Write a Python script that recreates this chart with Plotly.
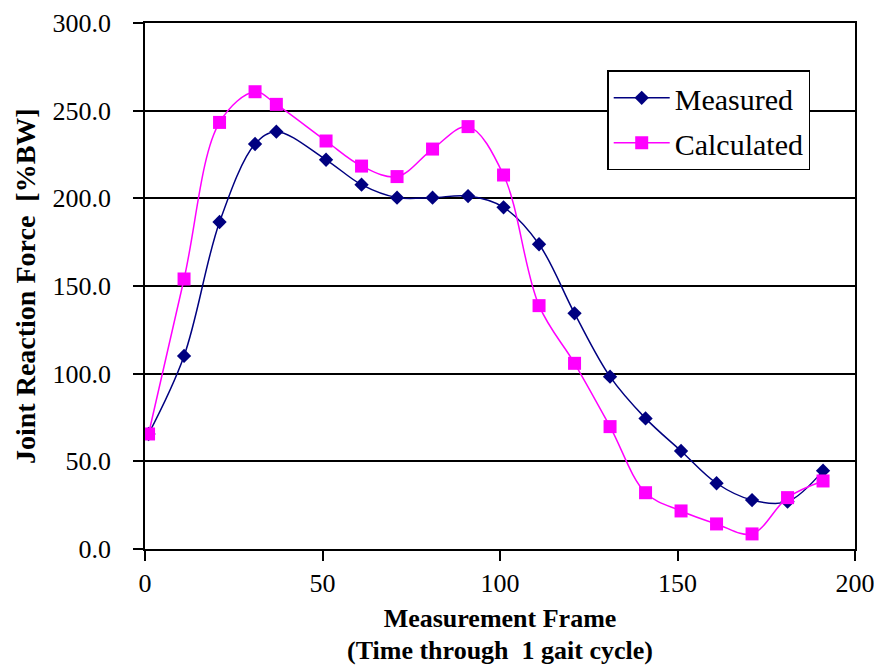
import plotly.graph_objects as go

frames_measured = [1, 11, 21, 31, 37, 51, 61, 71, 81, 91, 101, 111, 121, 131, 141, 151, 161, 171, 181, 191]
measured = [65.6, 110.1, 186.5, 231.0, 238.0, 222.0, 207.8, 200.4, 200.4, 201.3, 194.9, 173.8, 134.4, 98.3, 74.5, 55.9, 37.5, 27.9, 27.0, 44.7]

frames_calculated = [1, 11, 21, 31, 37, 51, 61, 71, 81, 91, 101, 111, 121, 131, 141, 151, 161, 171, 181, 191]
calculated = [65.6, 154.0, 243.3, 260.8, 253.6, 232.7, 218.4, 212.4, 228.1, 240.9, 213.3, 138.8, 105.9, 69.8, 32.1, 21.7, 14.3, 8.6, 29.3, 38.8]

x_ticks = [0, 50, 100, 150, 200]
y_ticks = [0, 50, 100, 150, 200, 250, 300]

FONT = "Liberation Serif"

fig = go.Figure()
fig.add_trace(go.Scatter(
    x=frames_measured, y=measured, name="Measured", mode="lines+markers",
    legendgroup="m",
    line=dict(color="#000080", width=1.5, shape="spline", smoothing=1.0),
    marker=dict(symbol="diamond", size=11, color="#000080"),
))
fig.add_trace(go.Scatter(
    x=frames_calculated, y=calculated, name="Calculated", mode="lines+markers",
    legendgroup="c",
    line=dict(color="#FF00FF", width=1.5, shape="spline", smoothing=1.0),
    marker=dict(symbol="square", size=13, color="#FF00FF"),
))

fig.update_layout(
    template="none",
    width=874, height=660,
    margin=dict(l=137, r=27, t=15, b=119),
    paper_bgcolor="white", plot_bgcolor="white",
    font=dict(family=FONT, size=26, color="black"),
    legend=dict(
        x=0.651, y=0.91, xanchor="left", yanchor="top",
        bgcolor="white", bordercolor="black", borderwidth=1.5,
        font=dict(family=FONT, size=30, color="black"),
        itemwidth=56, tracegroupgap=3,
    ),
    showlegend=True,
    annotations=[
        dict(
            text="<b>(Time through&nbsp; 1 gait cycle)</b>",
            xref="paper", yref="paper", x=0.5, y=0, xanchor="center", yanchor="bottom",
            yshift=-118, showarrow=False, font=dict(family=FONT, size=26, color="black"),
        ),
        dict(
            text="<b>Joint Reaction Force&nbsp; [%BW]</b>", textangle=-90,
            xref="paper", yref="paper", x=0, y=0.5, xanchor="center", yanchor="middle",
            xshift=-120, showarrow=False, font=dict(family=FONT, size=28, color="black"),
        ),
    ],
)
fig.update_xaxes(
    range=[0, 200], tickvals=x_ticks, ticktext=[str(v) for v in x_ticks],
    showgrid=False, zeroline=False, automargin=False,
    showline=True, linecolor="black", linewidth=1.5, mirror=True,
    ticks="outside", ticklen=10, tickcolor="black", tickwidth=1.5,
    ticklabelstandoff=0,
    tickfont=dict(family=FONT, size=26),
    title=dict(text="<b>Measurement Frame</b>",
               font=dict(family=FONT, size=26), standoff=12),
)
fig.update_yaxes(
    range=[0, 300], tickvals=y_ticks, ticktext=[f"{v:.1f}" for v in y_ticks],
    showgrid=True, gridcolor="black", gridwidth=1.5, zeroline=False, automargin=False,
    showline=True, linecolor="black", linewidth=1.5, mirror=True,
    ticks="outside", ticklen=10, tickcolor="black", tickwidth=1.5,
    ticklabelstandoff=17,
    tickfont=dict(family=FONT, size=26),
)

fig.write_html("out.html")
